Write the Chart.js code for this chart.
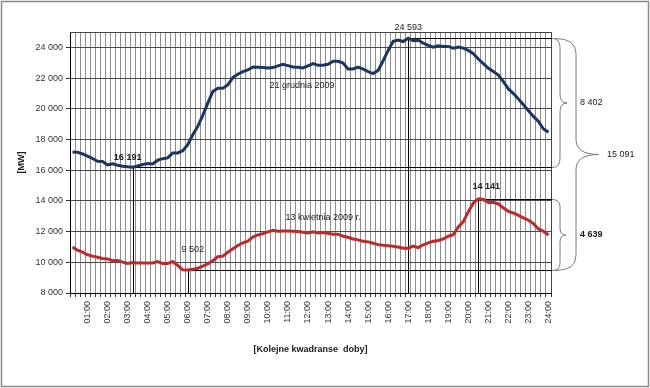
<!DOCTYPE html>
<html>
<head>
<meta charset="utf-8">
<script src="https://cdn.jsdelivr.net/npm/chart.js@4.4.1/dist/chart.umd.min.js"></script>
<style>
  html, body { margin: 0; padding: 0; background: #fff; }
  canvas { display: block; }
</style>
</head>
<body>
<canvas id="myChart" width="650" height="388"></canvas>
<script>
// quarter-hour slots 00:15 ... 24:00
const quarters = [];
for (let h = 0; h < 24; h++) {
  ["15", "30", "45", "00"].forEach((m, k) => {
    const hh = k === 3 ? h + 1 : h;
    quarters.push(String(hh).padStart(2, "0") + ":" + m);
  });
}

const hourLabels = [
  "01:00", "02:00", "03:00", "04:00", "05:00", "06:00", "07:00", "08:00",
  "09:00", "10:00", "11:00", "12:00", "13:00", "14:00", "15:00", "16:00",
  "17:00", "18:00", "19:00", "20:00", "21:00", "22:00", "23:00", "24:00"
];

const yTicks = [8000, 10000, 12000, 14000, 16000, 18000, 20000, 22000, 24000];

// 21 grudnia 2009
const grudzien = [
  17190, 17170, 17060, 16910, 16760, 16580, 16560, 16340,
  16410, 16320, 16260, 16220, 16191, 16280, 16370, 16430,
  16400, 16650, 16750, 16800, 17120, 17120, 17270, 17660,
  18310, 18850, 19570, 20370, 21120, 21340, 21340, 21550,
  22030, 22250, 22420, 22530, 22720, 22700, 22680, 22660,
  22680, 22790, 22900, 22810, 22720, 22700, 22660, 22790,
  22940, 22830, 22830, 22900, 23090, 23090, 22980, 22590,
  22590, 22720, 22590, 22420, 22290, 22500, 23130, 23800,
  24390, 24480, 24380, 24593, 24430, 24460, 24280, 24130,
  24010, 24100, 24060, 24060, 23950, 24020, 23950, 23800,
  23590, 23240, 22940, 22640, 22420, 22200, 21770, 21290,
  20990, 20640, 20260, 19870, 19500, 19180, 18680, 18470
];

// 13 kwietnia 2009 r.
const kwiecien = [
  11000, 10790, 10660, 10490, 10400, 10330, 10250, 10220,
  10100, 10120, 10010, 9920, 9990, 9960, 9960, 9960,
  9960, 10050, 9920, 9920, 10050, 9790, 9510, 9502,
  9550, 9610, 9750, 9900, 10100, 10360, 10400, 10650,
  10880, 11090, 11270, 11370, 11650, 11780, 11870, 11980,
  12090, 12020, 12040, 12040, 12020, 12000, 11950, 11910,
  11980, 11910, 11940, 11890, 11830, 11830, 11700, 11630,
  11520, 11460, 11370, 11330, 11240, 11150, 11110, 11080,
  11050, 11000, 10920, 10920, 11050, 10960, 11140, 11270,
  11370, 11420, 11520, 11700, 11800, 12300, 12650, 13300,
  13860, 14141, 14100, 13900, 13900, 13800, 13540, 13320,
  13210, 13060, 12890, 12740, 12520, 12170, 12020, 11780
];

const fmt = (v) => String(Math.round(v)).replace(/\B(?=(\d{3})+(?!\d))/g, " ");

const extremes = (arr) => {
  const max = Math.max(...arr);
  const min = Math.min(...arr);
  return { max, min, iMax: arr.indexOf(max), iMin: arr.indexOf(min) };
};
const dec = extremes(grudzien);
const apr = extremes(kwiecien);

const FONT = '"Liberation Sans", Arial, sans-serif';
Chart.defaults.font.family = FONT;
Chart.defaults.font.size = 9;
Chart.defaults.color = "#333";

function brace(ctx, x0, x1, tip, yTop, yBot, r) {
  const yMid = (yTop + yBot) / 2;
  ctx.beginPath();
  ctx.moveTo(x0, yTop);
  ctx.quadraticCurveTo(x1, yTop, x1, yTop + r);
  ctx.lineTo(x1, yMid - r);
  ctx.quadraticCurveTo(x1, yMid, tip, yMid);
  ctx.quadraticCurveTo(x1, yMid, x1, yMid + r);
  ctx.lineTo(x1, yBot - r);
  ctx.quadraticCurveTo(x1, yBot, x0, yBot);
  ctx.stroke();
}

const markers = {
  id: "markers",
  beforeDatasetsDraw(chart) {
    const { ctx, chartArea: a, scales: { x, y } } = chart;
    ctx.save();
    // top and right edge of plot area
    ctx.strokeStyle = "#444";
    ctx.lineWidth = 1;
    ctx.beginPath();
    ctx.moveTo(a.left, a.top + 0.5);
    ctx.lineTo(a.right + 0.5, a.top + 0.5);
    ctx.lineTo(a.right + 0.5, a.bottom);
    ctx.stroke();

    // drop lines for min / max
    ctx.strokeStyle = "#000";
    const marks = [
      [dec.iMin, dec.min], [dec.iMax, dec.max],
      [apr.iMin, apr.min], [apr.iMax, apr.max]
    ];
    marks.forEach(([i, v]) => {
      const px = Math.round(x.getPixelForValue(i)) + 0.5;
      const py = Math.round(y.getPixelForValue(v)) + 0.5;
      ctx.beginPath();
      ctx.moveTo(px, a.bottom);
      ctx.lineTo(px, py);
      ctx.lineTo(a.right + 1, py);
      ctx.stroke();
    });
    ctx.restore();
  },
  afterDatasetsDraw(chart) {
    const { ctx, chartArea: a, scales: { x, y } } = chart;
    ctx.save();
    ctx.textAlign = "center";
    ctx.textBaseline = "middle";
    ctx.fillStyle = "#1a1a1a";

    const bold = "bold 9px " + FONT;
    const norm = "9px " + FONT;

    ctx.font = bold;
    ctx.fillText(fmt(dec.min), x.getPixelForValue(dec.iMin) - 5, y.getPixelForValue(dec.min) - 10);
    ctx.font = norm;
    ctx.fillText(fmt(dec.max), x.getPixelForValue(dec.iMax), y.getPixelForValue(dec.max) - 11);
    ctx.fillText(fmt(apr.min), x.getPixelForValue(apr.iMin) + 5, y.getPixelForValue(apr.min) - 20);
    ctx.font = bold;
    ctx.fillText(fmt(apr.max), x.getPixelForValue(apr.iMax) + 8, y.getPixelForValue(apr.max) - 12);

    ctx.font = norm;
    ctx.fillText("21 grudnia 2009", x.getPixelForValue(46) - 1, y.getPixelForValue(21530));
    ctx.fillText("13 kwietnia 2009 r.", x.getPixelForValue(50), y.getPixelForValue(12900));

    // braces on the right
    const yDecMax = Math.round(y.getPixelForValue(dec.max)) + 0.5;
    const yDecMin = Math.round(y.getPixelForValue(dec.min)) + 0.5;
    const yAprMax = Math.round(y.getPixelForValue(apr.max)) + 0.5;
    const yAprMin = Math.round(y.getPixelForValue(apr.min)) + 0.5;
    const R = a.right;
    ctx.strokeStyle = "#7a7a7a";
    ctx.lineWidth = 1;
    brace(ctx, R + 1, R + 9, R + 16, yDecMax, yDecMin, 9);
    brace(ctx, R + 4, R + 25, R + 48, yDecMax, yAprMin, 15);
    brace(ctx, R + 1, R + 9, R + 15, yAprMax, yAprMin, 7);

    ctx.textAlign = "left";
    ctx.font = norm;
    ctx.fillText(fmt(dec.max - dec.min), R + 29, (yDecMax + yDecMin) / 2);
    ctx.fillText(fmt(dec.max - apr.min), R + 56, (yDecMax + yAprMin) / 2);
    ctx.font = bold;
    ctx.fillText(fmt(apr.max - apr.min), R + 29, (yAprMax + yAprMin) / 2);
    ctx.restore();
  },
  afterDraw(chart) {
    const { ctx, width, height } = chart;
    ctx.save();
    ctx.strokeStyle = "#8a8a8a";
    ctx.lineWidth = 1.5;
    ctx.strokeRect(1.5, 1.5, width - 3, height - 3);
    ctx.restore();
  }
};

const ctx = document.getElementById("myChart");

new Chart(ctx, {
  type: "line",
  data: {
    labels: quarters,
    datasets: [
      {
        label: "21 grudnia 2009",
        data: grudzien,
        borderColor: "#1c3664",
        borderWidth: 3,
        pointRadius: 0,
        tension: 0,
      },
      {
        label: "13 kwietnia 2009 r.",
        data: kwiecien,
        borderColor: "#be2a2a",
        borderWidth: 3,
        pointRadius: 0,
        tension: 0,
      },
    ],
  },
  options: {
    responsive: false,
    animation: false,
    devicePixelRatio: 1,
    layout: { padding: { left: 0, right: 99, top: 32, bottom: 0 } },
    plugins: {
      legend: { display: false },
      tooltip: { enabled: false },
    },
    scales: {
      x: {
        offset: true,
        afterFit: (scale) => { scale.height = 95; },
        grid: {
          offset: true,
          color: "#8e8e8e",
          lineWidth: 1,
          tickLength: 4,
          tickColor: "#333",
        },
        border: { color: "#000", width: 1 },
        ticks: {
          autoSkip: false,
          minRotation: 90,
          maxRotation: 90,
          padding: 4,
          color: "#333",
          font: { size: 9 },
          callback: (val, i) => ((i + 1) % 4 === 0 ? hourLabels[(i + 1) / 4 - 1] : ""),
        },
        title: {
          display: true,
          text: "[Kolejne kwadranse  doby]",
          color: "#1a1a1a",
          font: { size: 9, weight: "bold" },
          padding: { top: 0, bottom: 33 },
        },
      },
      y: {
        min: 8000,
        max: 25000,
        afterFit: (scale) => { scale.width = 70; },
        afterBuildTicks: (scale) => { scale.ticks = yTicks.map((v) => ({ value: v })); },
        grid: {
          color: "#4a4a4a",
          lineWidth: 1,
          tickLength: 4,
          tickColor: "#333",
        },
        border: { color: "#000", width: 1 },
        ticks: {
          padding: 3,
          color: "#333",
          font: { size: 9 },
          callback: (v) => fmt(v),
        },
        title: {
          display: true,
          text: "[MW]",
          color: "#1a1a1a",
          font: { size: 9, weight: "bold" },
          padding: { top: 16, bottom: 0 },
        },
      },
    },
  },
  plugins: [markers],
});
</script>
</body>
</html>
